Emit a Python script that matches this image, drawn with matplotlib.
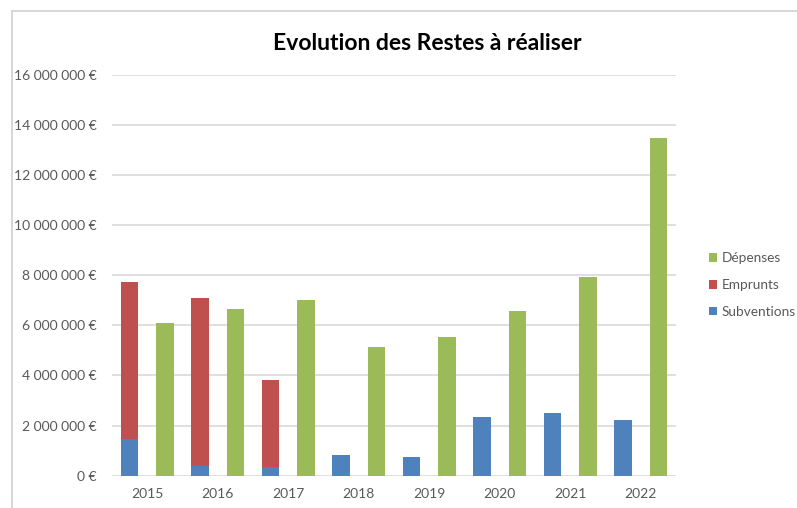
import numpy as np
import matplotlib.pyplot as plt
from matplotlib.lines import Line2D
from matplotlib.ticker import FuncFormatter

years = ["2015", "2016", "2017", "2018", "2019", "2020", "2021", "2022"]
subventions = [1.46e6, 0.40e6, 0.33e6, 0.81e6, 0.75e6, 2.33e6, 2.51e6, 2.21e6]
emprunts = [6.25e6, 6.70e6, 3.49e6, 0, 0, 0, 0, 0]
depenses = [6.09e6, 6.66e6, 7.03e6, 5.15e6, 5.55e6, 6.57e6, 7.93e6, 13.47e6]

blue = "#4F81BD"
red = "#C0504D"
green = "#9BBB59"
grey = "#595959"

plt.rcParams['font.family'] = ['Lato', 'DejaVu Sans']

fig = plt.figure(figsize=(7.97, 5.08), dpi=100)
ax = fig.add_axes([112 / 797, 1 - 475.7 / 508, (676 - 112) / 797, (475.7 - 74.7) / 508])

x = np.arange(len(years))
w = 0.25
b1 = ax.bar(x - w, subventions, w, color=blue, label="Subventions", zorder=3)
b2 = ax.bar(x - w, emprunts, w, bottom=subventions, color=red, label="Emprunts", zorder=3)
b3 = ax.bar(x + w, depenses, w, color=green, label="Dépenses", zorder=3)

ax.set_xlim(-0.5, len(years) - 0.5)
ax.set_ylim(0, 16e6)
ax.set_yticks(np.arange(0, 16e6 + 1, 2e6))
ax.yaxis.set_major_formatter(FuncFormatter(lambda v, p: f"{int(v):,} €".replace(",", " ")))
ax.set_xticks(x)
ax.set_xticklabels(years)
ax.tick_params(axis="both", length=0, colors=grey, labelsize=10)
ax.tick_params(axis="y", pad=11)
ax.tick_params(axis="x", pad=9)
ax.grid(axis="y", color="#D9D9D9", linewidth=1.2, zorder=0)
for s in ax.spines.values():
    s.set_visible(False)

fig.text(427 / 797, 1 - 44 / 508, "Evolution des Restes à réaliser",
         ha="center", va="center", fontsize=16.5, fontweight="bold", color="black")

leg = fig.legend(handles=[b3, b2, b1], labels=["Dépenses", "Emprunts", "Subventions"],
                 loc="center left", bbox_to_anchor=(709 / 797, 1 - 285 / 508),
                 frameon=False, fontsize=9.8, handlelength=0.6, handleheight=0.6,
                 handletextpad=0.35, labelspacing=1.1, labelcolor=grey,
                 borderpad=0, borderaxespad=0)

# chart border (cropped screenshot)
fig.add_artist(Line2D([12 / 797, 12 / 797], [0, 1 - 11 / 508], color="#D0D0D0", linewidth=1.2))
fig.add_artist(Line2D([12 / 797, 1], [1 - 11 / 508, 1 - 11 / 508], color="#D0D0D0", linewidth=1.2))

fig.savefig("out.png", dpi=100)
